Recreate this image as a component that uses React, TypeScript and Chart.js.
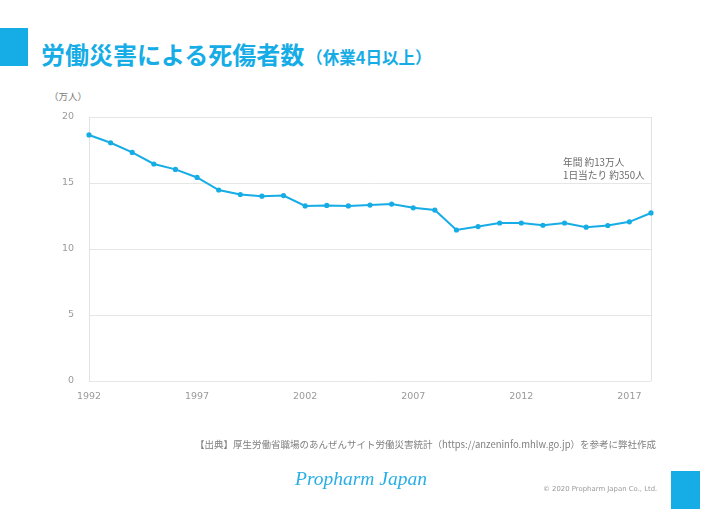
import React, { useEffect, useRef } from "react";
import { Chart, registerables } from "chart.js";

Chart.register(...registerables);

const years: string[] = [
  "1992","1993","1994","1995","1996","1997","1998","1999","2000","2001",
  "2002","2003","2004","2005","2006","2007","2008","2009","2010","2011",
  "2012","2013","2014","2015","2016","2017","2018",
];
const casualties: number[] = [
  18.64, 18.05, 17.32, 16.44, 16.03, 15.42, 14.47, 14.13, 14.0, 14.05,
  13.26, 13.3, 13.26, 13.33, 13.4, 13.12, 12.95, 11.44, 11.7, 11.97,
  11.97, 11.8, 11.97, 11.65, 11.78, 12.06, 12.73,
];
const yTicks: number[] = [0, 5, 10, 15, 20];
const shownYears: string[] = ["1992", "1997", "2002", "2007", "2012", "2017"];

const BLUE = "#16ace5";

export default function App() {
  const ref = useRef<HTMLCanvasElement | null>(null);

  useEffect(() => {
    document.body.style.margin = "0";
    if (!ref.current) return;
    const chart = new Chart(ref.current, {
      type: "line",
      data: {
        labels: years,
        datasets: [
          {
            data: casualties,
            borderColor: BLUE,
            backgroundColor: BLUE,
            borderWidth: 2,
            pointRadius: 1.6,
            pointHoverRadius: 1.6,
            tension: 0,
          },
        ],
      },
      options: {
        animation: false,
        responsive: false,
        maintainAspectRatio: false,
        layout: { padding: { left: 59, right: 69, top: 117, bottom: 98 } },
        plugins: { legend: { display: false }, tooltip: { enabled: false } },
        scales: {
          x: {
            offset: false,
            grid: {
              color: (c: any) =>
                c.index === 0 || c.index === years.length - 1 ? "#e2e2e2" : "rgba(0,0,0,0)",
              drawTicks: false,
            },
            border: { display: false },
            ticks: {
              autoSkip: false,
              maxRotation: 0,
              padding: 10,
              color: "#9a9a9a",
              font: { family: "DejaVu Sans", size: 9.5 },
              callback: (_v: any, i: number) =>
                shownYears.includes(years[i]) ? years[i] : "",
            },
            afterFit: (s: any) => {
              s.height = 30;
            },
          },
          y: {
            min: 0,
            max: 20,
            afterBuildTicks: (s: any) => {
              s.ticks = yTicks.map((v) => ({ value: v }));
            },
            grid: { color: "#e6e6e6", drawTicks: false },
            border: { display: true, color: "#e2e2e2" },
            ticks: {
              padding: 15,
              color: "#9a9a9a",
              font: { family: "DejaVu Sans", size: 9.5 },
            },
            afterFit: (s: any) => {
              s.width = 30;
            },
          },
        },
      },
    });
    return () => chart.destroy();
  }, []);

  const abs = (o: React.CSSProperties): React.CSSProperties => ({
    position: "absolute",
    whiteSpace: "nowrap",
    ...o,
  });

  return (
    <div
      style={{
        position: "relative",
        width: 720,
        height: 509,
        overflow: "hidden",
        background: "#ffffff",
        fontFamily: "'Noto Sans CJK JP', 'DejaVu Sans', sans-serif",
      }}
    >
      <div style={abs({ left: 0, top: 28, width: 28, height: 38, background: BLUE })} />
      <div
        style={abs({
          left: 41,
          top: 38,
          color: BLUE,
          fontWeight: 700,
          fontSize: 24,
          lineHeight: "32px",
        })}
      >
        労働災害による死傷者数
        <span style={{ fontSize: 16.5, marginLeft: 2 }}>（休業4日以上）</span>
      </div>
      <div style={abs({ left: 49, top: 88, color: "#7a7a7a", fontSize: 9.5, lineHeight: "16px" })}>
        （万人）
      </div>
      <canvas ref={ref} width={720} height={509} style={abs({ left: 0, top: 0, width: 720, height: 509 })} />
      <div
        style={abs({ left: 563, top: 156, color: "#6a6a6a", fontSize: 9.7, lineHeight: "12.5px" })}
      >
        年間 約13万人
        <br />
        1日当たり 約350人
      </div>
      <div style={abs({ left: 195, top: 437, color: "#808080", fontSize: 9.5, lineHeight: "14px" })}>
        【出典】厚生労働省職場のあんぜんサイト労働災害統計（https://anzeninfo.mhlw.go.jp）を参考に弊社作成
      </div>
      <div
        style={abs({
          left: 295,
          top: 464,
          color: "#2aaee6",
          fontFamily: "'Liberation Serif', 'DejaVu Serif', serif",
          fontStyle: "italic",
          fontSize: 19.5,
          lineHeight: "30px",
        })}
      >
        Propharm Japan
      </div>
      <div style={abs({ left: 543, top: 483, color: "#9a9a9a", fontSize: 6.9, lineHeight: "12px", fontFamily: "'DejaVu Sans', sans-serif" })}>
        © 2020 Propharm Japan Co., Ltd.
      </div>
      <div style={abs({ left: 671, top: 471, width: 29, height: 38, background: BLUE })} />
    </div>
  );
}
